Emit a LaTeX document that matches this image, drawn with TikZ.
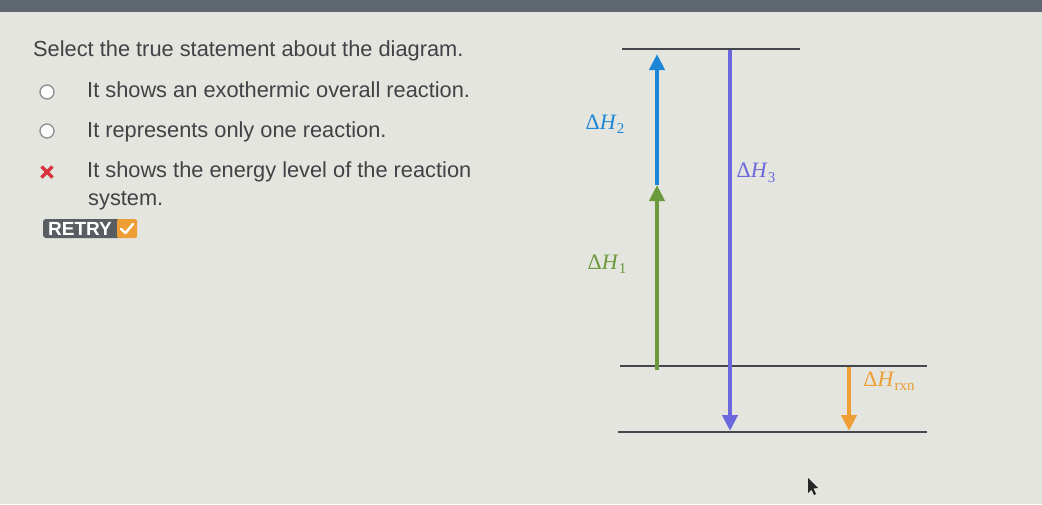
\documentclass[tikz,border=0pt]{standalone}
\usepackage{fontspec}
\setmainfont{Liberation Sans}
\newfontfamily\lserif{Liberation Serif}
\usetikzlibrary{arrows.meta,calc}
\definecolor{bg}{HTML}{E3E5DE}
\definecolor{topbar}{HTML}{5E6670}
\definecolor{txt}{HTML}{404246}
\definecolor{lvl}{HTML}{45474E}
\definecolor{cblue}{HTML}{1E86D6}
\definecolor{cgreen}{HTML}{6B9A3C}
\definecolor{cpurple}{HTML}{6A68DC}
\definecolor{corange}{HTML}{EE9E34}
\definecolor{cbtn}{HTML}{585D62}
\definecolor{cred}{HTML}{D8323C}
\newcommand{\dH}[1]{{\lserif Δ\textit{H}\raisebox{-4.5pt}{\fontsize{15}{15}\selectfont #1}}}
\tikzset{
  qtext/.style={anchor=base west, inner sep=0pt, text=txt, font=\fontsize{21.8}{25}\selectfont},
  radio/.style={draw=txt!60, line width=1.3pt, circle, minimum size=14pt, inner sep=0pt, fill=white!90!bg},
  level/.style={draw=lvl, line width=1.5pt},
  harrow/.style={line width=4.2pt, -{Triangle[width=15pt,length=16pt]}},
  hlabel/.style={inner sep=0pt, font=\fontsize{22}{25}\selectfont},
}
\begin{document}
\begin{tikzpicture}[x=1pt,y=-1pt]
\useasboundingbox (0,0) rectangle (1042,504);
\fill[bg] (0,0) rectangle (1042,504);
\fill[topbar] (0,0) rectangle (1042,12);
% question
\node[qtext] (q) at (33,56) {Select the true statement about the diagram.};
\node[radio] (r1) at (47,92) {};
\node[qtext] (o1) at (87,97) {It shows an exothermic overall reaction.};
\node[radio] (r2) at (47,131) {};
\node[qtext] (o2) at (87,137) {It represents only one reaction.};
\coordinate (xm) at (47,172);
\draw[cred, line width=3.2pt] ($(xm)+(-5.5,-5.5)$) -- ($(xm)+(5.5,5.5)$) ($(xm)+(-5.5,5.5)$) -- ($(xm)+(5.5,-5.5)$);
\node[qtext] (o3) at (87,177) {It shows the energy level of the reaction};
\node[qtext] (o3b) at (88,205) {system.};
% retry button
\fill[cbtn, rounded corners=3pt] (43,219) rectangle (121,238);
\fill[corange, rounded corners=2pt] (117,219) rectangle (137,238);
\node[inner sep=0pt, text=white, font=\bfseries\fontsize{19}{21}\selectfont] (retry) at (80,229) {RETRY};
\draw[white, line width=2.4pt, line cap=round, line join=round] (121,229) -- (125.5,233) -- (133,224);
% levels
\coordinate (t1) at (622,49); \coordinate (t2) at (800,49);
\coordinate (m1) at (620,366); \coordinate (m2) at (927,366);
\coordinate (b1) at (618,432); \coordinate (b2) at (927,432);
\draw[level] (t1) -- (t2);
\draw[level] (m1) -- (m2);
\draw[level] (b1) -- (b2);
% arrows
\coordinate (g0) at (657,370); \coordinate (g1) at (657,185);
\coordinate (bl1) at (657,54);
\coordinate (p0) at (730,50); \coordinate (p1) at (730,431);
\coordinate (o0) at (849,367); \coordinate (o1e) at (849,431);
\draw[harrow, cgreen] (g0) -- (g1);
\draw[harrow, cblue] (g1) -- (bl1);
\draw[harrow, cpurple] (p0) -- (p1);
\draw[harrow, corange] (o0) -- (o1e);
% labels
\node[hlabel, text=cblue] (l2) at (605,124) {\dH{2}};
\node[hlabel, text=cpurple] (l3) at (756,173) {\dH{3}};
\node[hlabel, text=cgreen] (l1) at (607,264) {\dH{1}};
\node[hlabel, text=corange] (lr) at (889,381) {\dH{rxn}};
% cursor
\fill[black!85] (808,478) -- (808,493) -- (811.5,489.5) -- (814,495) -- (816,494) -- (813.5,488.5) -- (818,488) -- cycle;
\end{tikzpicture}
\end{document}
